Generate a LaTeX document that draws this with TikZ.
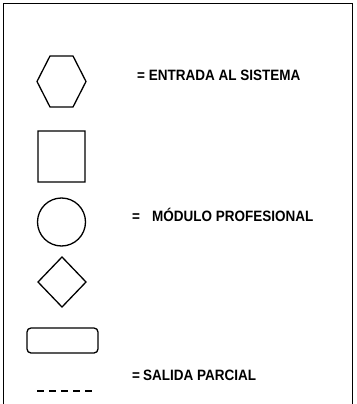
\documentclass[tikz,border=0pt]{standalone}
\usepackage{fontspec}
\setmainfont{Liberation Sans}
\newfontfamily\narrowfont[FakeStretch=0.9]{Liberation Sans}
\tikzset{
    shape line/.style = {draw, line width = 1.3pt},
    legend text/.style = {anchor = west, inner sep = 0pt, font = \narrowfont\bfseries\fontsize{15}{17}\selectfont}
}
\begin{document}
\begin{tikzpicture}[x = 1pt, y = -1pt]
        \useasboundingbox (0, 0) rectangle (356, 404);
        % open frame
        \draw [line width = 1.3pt] (3.5, 404) -- (3.5, 3.5) -- (352.5, 3.5) -- (352.5, 404);

        % shapes
        \draw [shape line]
            (37, 81.5) -- (50, 56) -- (73, 56) -- (86, 81.5) -- (73, 107) -- (50, 107) -- cycle
            (38, 131) rectangle (85, 182)
            (61.5, 222) circle [radius = 24]
            (62, 257) -- (86, 282) -- (62, 307) -- (38, 282) -- cycle
        ;
        \draw [shape line, rounded corners = 4pt] (27, 328) rectangle (98, 353);
        \coordinate (d1) at (37, 391);
        \coordinate (d2) at (95, 391);
        \draw [line width = 1.3pt, dash pattern = on 7pt off 5pt] (d1) -- (d2);

        % labels
        \node (entrada) [legend text] at (137, 75.5) {= ENTRADA AL SISTEMA};
        \node (modulo) [legend text] at (132, 215) {=\hspace{12pt}MÓDULO PROFESIONAL};
        \node (salida) [legend text] at (132, 375.5) {=\hspace{3pt}SALIDA PARCIAL};
    \end{tikzpicture}
\end{document}
